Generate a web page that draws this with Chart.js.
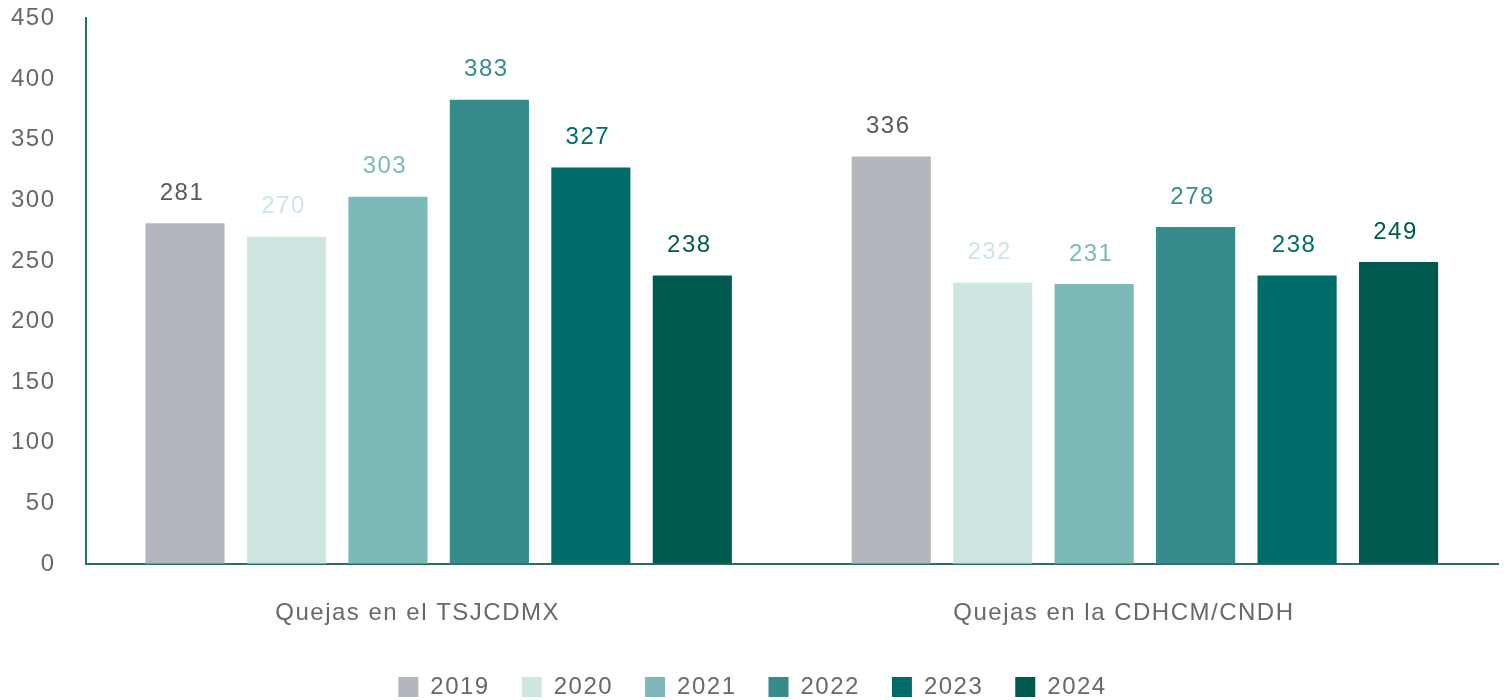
<!DOCTYPE html>
<html lang="es">
<head>
<meta charset="UTF-8">
<title>Quejas</title>
<script src="https://cdn.jsdelivr.net/npm/chart.js"></script>
<style>
    body { margin: 0; background: #fff; }
    #wrap { width: 1506px; height: 700px; }
</style>
</head>
<body>
<div id="wrap"><canvas id="mychart"></canvas></div>
<script>
// categories on the x axis and one series per year
const categories = ['Quejas en el TSJCDMX', 'Quejas en la CDHCM/CNDH'];
const years = ['2019', '2020', '2021', '2022', '2023', '2024'];
const values2019 = [281, 336];
const values2020 = [270, 232];
const values2021 = [303, 231];
const values2022 = [383, 278];
const values2023 = [327, 238];
const values2024 = [238, 249];
const yMin = 0, yMax = 450, yStep = 50;

const barColors = ['#b3b6bd', '#cde6e2', '#7bbab7', '#358c8a', '#006b68', '#005a4f'];
const labelColors = ['#58595b', '#cde6e2', '#7bbab7', '#358c8a', '#006b68', '#005a4f'];
const series = [values2019, values2020, values2021, values2022, values2023, values2024];

const FONT = '"Liberation Sans", Arial, sans-serif';
const SIZE = 24;
const gray = '#67686b';
const axisColor = '#2b6e68';

// text in the original is a bit more spread out than Arial
const spacing = {
    id: 'spacing',
    beforeUpdate(chart) { chart.ctx.letterSpacing = '1.5px'; },
    beforeDraw(chart) { chart.ctx.letterSpacing = '1.5px'; }
};

// value above each bar
const valueLabels = {
    id: 'valueLabels',
    afterDatasetsDraw(chart) {
        const ctx = chart.ctx;
        ctx.save();
        ctx.font = SIZE + 'px ' + FONT;
        ctx.textAlign = 'center';
        ctx.textBaseline = 'middle';
        chart.data.datasets.forEach((ds, i) => {
            chart.getDatasetMeta(i).data.forEach((bar, j) => {
                ctx.fillStyle = labelColors[i];
                ctx.fillText(ds.data[j], bar.x - 3, bar.y - 30);
            });
        });
        ctx.restore();
    }
};

const datasets = years.map((y, i) => ({
    label: y,
    data: series[i],
    backgroundColor: barColors[i],
    borderWidth: 0,
    barPercentage: 0.78,
    categoryPercentage: 0.862
}));

new Chart(document.getElementById('mychart'), {
    type: 'bar',
    data: { labels: categories, datasets: datasets },
    plugins: [spacing, valueLabels],
    options: {
        responsive: true,
        maintainAspectRatio: false,
        animation: false,
        layout: { padding: { left: 7, right: 8, top: 0, bottom: -9 } },
        plugins: {
            tooltip: { enabled: false },
            legend: {
                position: 'bottom',
                labels: {
                    boxWidth: 20,
                    boxHeight: 20,
                    padding: 32,
                    color: gray,
                    font: { family: FONT, size: SIZE }
                }
            }
        },
        scales: {
            x: {
                grid: { display: true, drawOnChartArea: false, drawTicks: true, tickLength: 31, tickColor: 'rgba(0,0,0,0)' },
                border: { display: true, color: axisColor, width: 2 },
                ticks: { color: gray, padding: 4, labelOffset: -21, font: { family: FONT, size: SIZE } },
                // empty title only keeps room between the labels and the legend
                title: { display: true, text: ' ', color: 'rgba(0,0,0,0)', font: { size: 6 }, padding: { top: 0, bottom: 4 } }
            },
            y: {
                min: yMin,
                max: yMax,
                grid: { display: true, drawOnChartArea: false, drawTicks: true, tickLength: 26, tickColor: 'rgba(0,0,0,0)' },
                border: { display: true, color: axisColor, width: 2 },
                ticks: { stepSize: yStep, color: gray, padding: 4, font: { family: FONT, size: SIZE } }
            }
        }
    }
});
</script>
</body>
</html>
